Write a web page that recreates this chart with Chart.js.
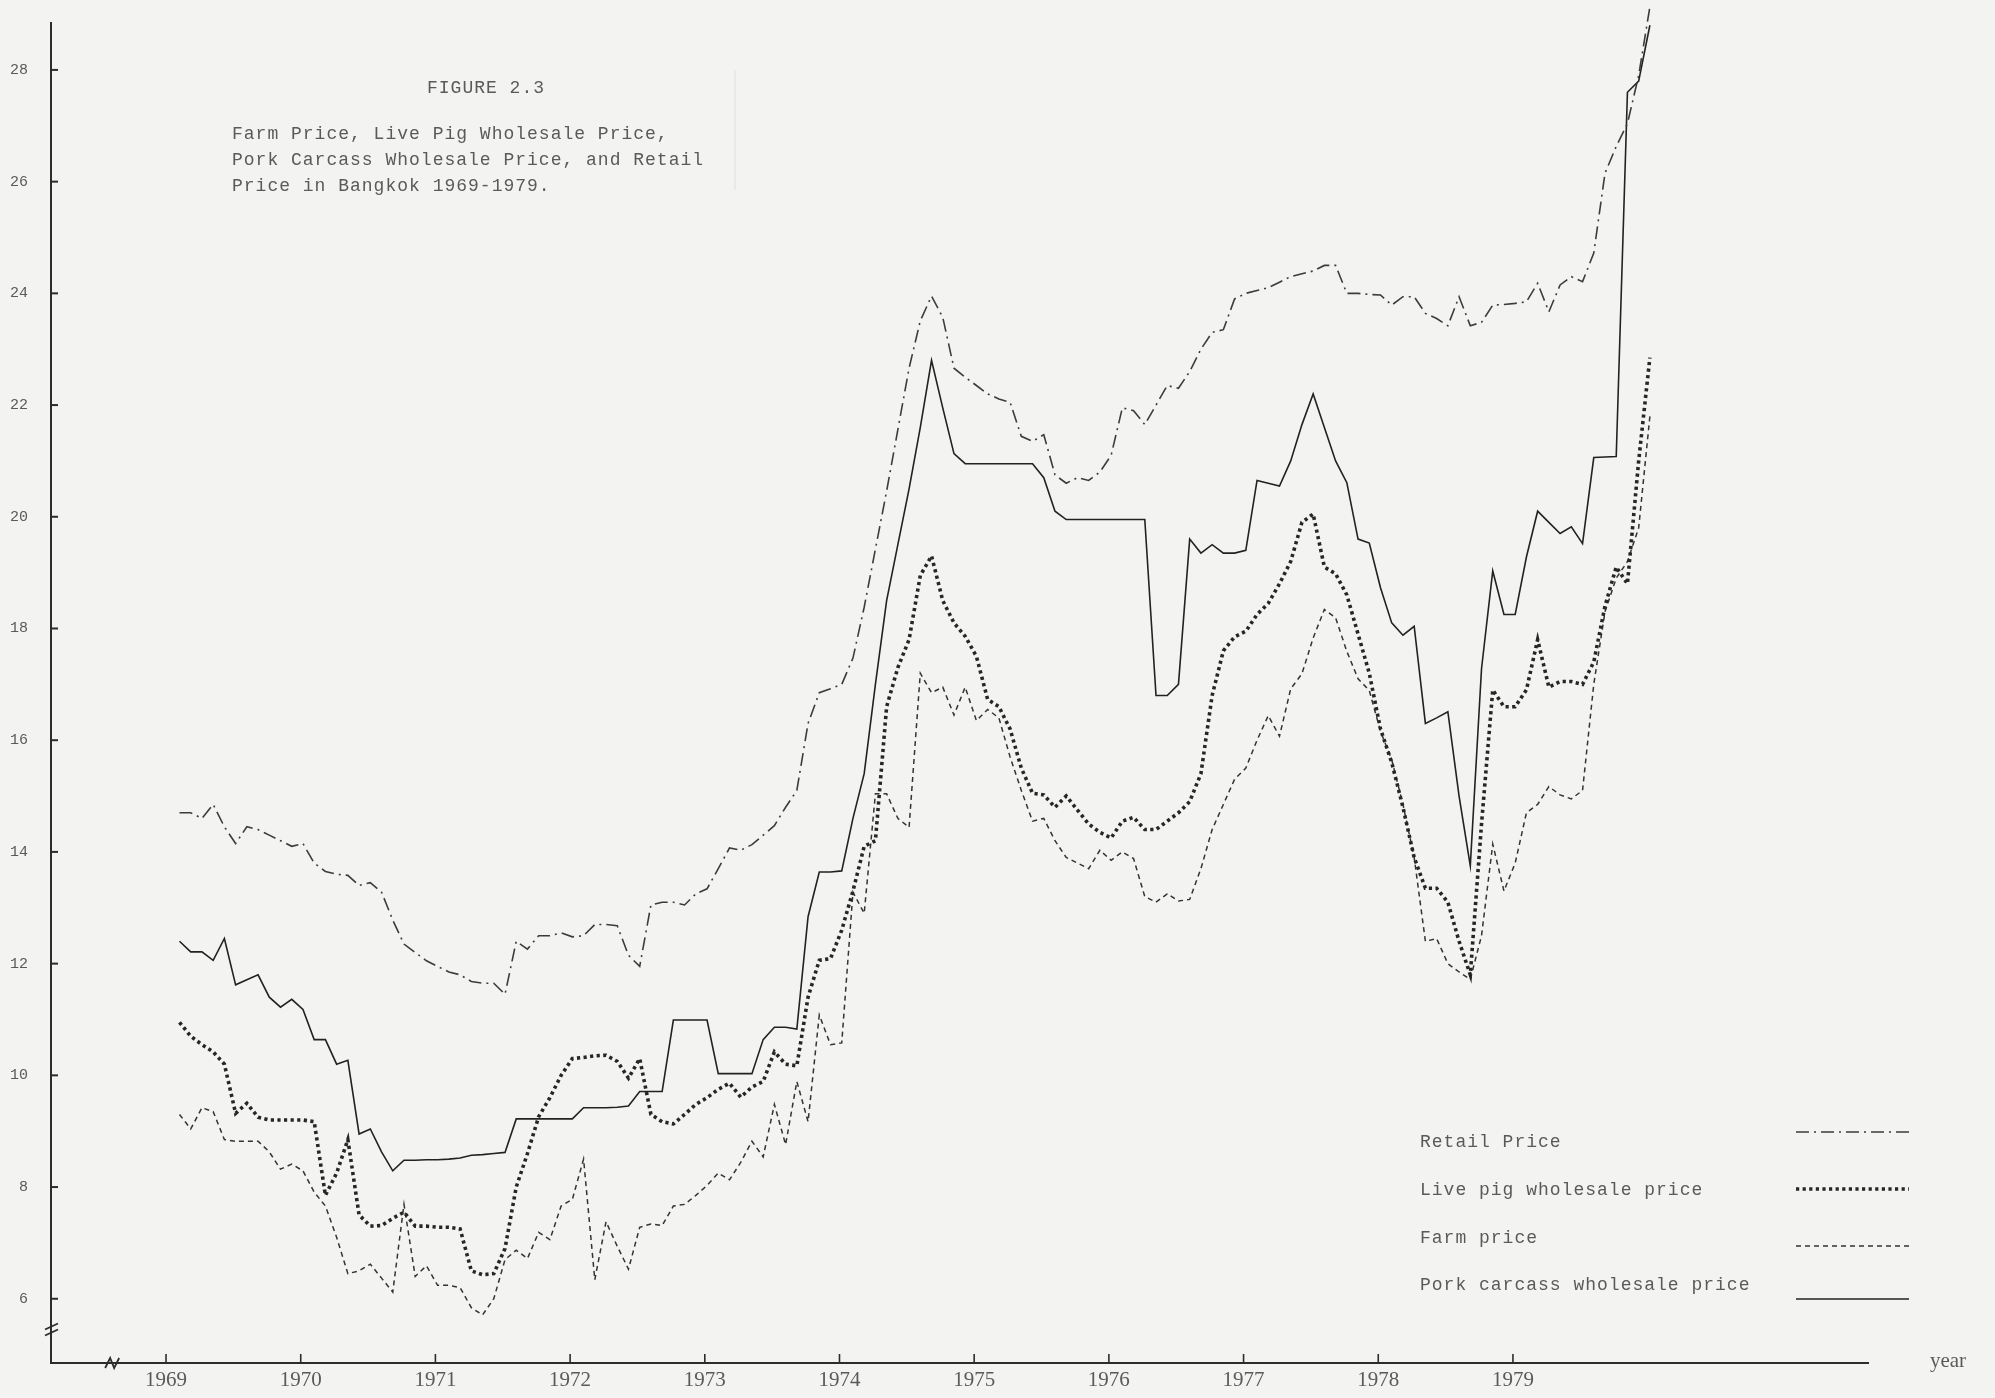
<!DOCTYPE html>
<html>
<head>
<meta charset="utf-8">
<script src="https://cdn.jsdelivr.net/npm/chart.js@4/dist/chart.umd.min.js"></script>
<style>
  html, body { margin: 0; padding: 0; background: #f3f3f2; }
  #wrap { width: 1995px; height: 1398px; position: relative; }
  canvas { display: block; }
</style>
</head>
<body>
<div id="wrap"><canvas id="chart" width="1995" height="1398"></canvas></div>
<script>
// Monthly prices, January 1969 to December 1979 (one row per year)
const years = [1969, 1970, 1971, 1972, 1973, 1974, 1975, 1976, 1977, 1978, 1979];
const yTicks = [6, 8, 10, 12, 14, 16, 18, 20, 22, 24, 26, 28];

const retailPrice = [
  14.7, 14.7, 14.6, 14.85, 14.45, 14.15, 14.45, 14.4, 14.3, 14.2, 14.1, 14.15,
  13.8, 13.65, 13.6, 13.58, 13.4, 13.45, 13.28, 12.78, 12.35, 12.2, 12.05, 11.95,
  11.85, 11.8, 11.68, 11.65, 11.65, 11.45, 12.4, 12.26, 12.5, 12.5, 12.55, 12.48,
  12.5, 12.7, 12.7, 12.68, 12.15, 11.95, 13.05, 13.1, 13.1, 13.05, 13.25, 13.34,
  13.7, 14.07, 14.03, 14.13, 14.3, 14.47, 14.8, 15.1, 16.3, 16.85, 16.92, 17.0,
  17.47, 18.38, 19.42, 20.46, 21.56, 22.66, 23.51, 23.95, 23.57, 22.66, 22.5, 22.35,
  22.2, 22.11, 22.05, 21.44, 21.35, 21.47, 20.75, 20.6, 20.7, 20.65, 20.8, 21.1,
  21.95, 21.9, 21.65, 22.0, 22.35, 22.3, 22.6, 23.0, 23.3, 23.35, 23.9, 24.0,
  24.05, 24.1, 24.2, 24.3, 24.35, 24.4, 24.5, 24.5, 24.0, 24.0, 23.98, 23.97,
  23.79, 23.94, 23.94, 23.64, 23.55, 23.42, 23.94, 23.42, 23.48, 23.79, 23.8, 23.82,
  23.85, 24.18, 23.67, 24.15, 24.3, 24.21, 24.72, 26.15, 26.63, 27.04, 27.9, 29.13
];

const livePigPrice = [
  10.95, 10.7, 10.55, 10.42, 10.2, 9.32, 9.5, 9.25, 9.2, 9.2, 9.2, 9.2,
  9.17, 7.85, 8.25, 8.85, 7.5, 7.3, 7.31, 7.44, 7.55, 7.3, 7.3, 7.28,
  7.28, 7.25, 6.5, 6.43, 6.45, 6.9, 8.0, 8.6, 9.26, 9.6, 10.0, 10.3,
  10.32, 10.35, 10.36, 10.25, 9.95, 10.3, 9.3, 9.17, 9.13, 9.3, 9.48, 9.6,
  9.75, 9.86, 9.61, 9.79, 9.89, 10.42, 10.2, 10.17, 11.4, 12.06, 12.09, 12.6,
  13.3, 14.1, 14.2, 16.6, 17.3, 17.8, 18.95, 19.3, 18.5, 18.1, 17.86, 17.5,
  16.73, 16.6, 16.2, 15.5, 15.05, 15.02, 14.8, 15.0, 14.75, 14.5, 14.35, 14.25,
  14.55, 14.62, 14.4, 14.4, 14.55, 14.7, 14.9, 15.4, 16.8, 17.6, 17.85, 17.95,
  18.25, 18.45, 18.8, 19.2, 19.9, 20.05, 19.1, 18.98, 18.6, 17.9, 17.2, 16.2,
  15.6, 14.8, 13.9, 13.35, 13.35, 13.1, 12.4, 11.8, 14.5, 16.9, 16.6, 16.6,
  16.9, 17.8, 16.95, 17.05, 17.05, 17.0, 17.4, 18.4, 19.1, 18.8, 21.0, 22.85
];

const farmPrice = [
  9.3, 9.04, 9.42, 9.35, 8.85, 8.82, 8.82, 8.82, 8.63, 8.32, 8.41, 8.29,
  7.91, 7.66, 7.1, 6.45, 6.5, 6.62, 6.37, 6.12, 7.69, 6.4, 6.59, 6.24,
  6.24, 6.2, 5.84, 5.71, 6.0, 6.7, 6.87, 6.72, 7.19, 7.06, 7.66, 7.78,
  8.5, 6.34, 7.38, 6.94, 6.53, 7.28, 7.34, 7.31, 7.66, 7.69, 7.85, 8.03,
  8.25, 8.13, 8.44, 8.82, 8.54, 9.48, 8.76, 9.89, 9.17, 11.08, 10.55, 10.58,
  13.28, 12.9, 15.04, 15.04, 14.6, 14.44, 17.2, 16.85, 16.95, 16.45, 16.95, 16.35,
  16.55, 16.4, 15.7, 15.1, 14.55, 14.6, 14.2, 13.9, 13.8, 13.7, 14.03, 13.85,
  14.0, 13.88, 13.2, 13.1, 13.25, 13.12, 13.15, 13.7, 14.4, 14.85, 15.3, 15.5,
  16.0, 16.44, 16.07, 16.92, 17.19, 17.83, 18.34, 18.19, 17.59, 17.1, 16.89, 16.16,
  15.65, 14.85, 13.9, 12.4, 12.45, 12.0, 11.85, 11.72, 12.5, 14.14, 13.3, 13.8,
  14.7, 14.85, 15.17, 15.02, 14.95, 15.1, 17.0, 18.3, 18.9, 19.2, 19.8, 21.8
];

const porkCarcassPrice = [
  12.4, 12.21, 12.21, 12.06, 12.45, 11.62, 11.71, 11.8, 11.4, 11.22, 11.36, 11.18,
  10.64, 10.64, 10.2, 10.27, 8.95, 9.04, 8.63, 8.29, 8.48, 8.48, 8.49, 8.49,
  8.5, 8.52, 8.57, 8.58, 8.6, 8.62, 9.22, 9.22, 9.22, 9.22, 9.22, 9.22,
  9.42, 9.42, 9.42, 9.43, 9.45, 9.71, 9.71, 9.71, 10.99, 10.99, 10.99, 10.99,
  10.03, 10.03, 10.03, 10.03, 10.64, 10.86, 10.86, 10.83, 12.84, 13.64, 13.64, 13.66,
  14.6, 15.4, 17.0, 18.5, 19.5, 20.5, 21.6, 22.8, 21.95, 21.13, 20.95, 20.95,
  20.95, 20.95, 20.95, 20.95, 20.95, 20.7, 20.1, 19.95, 19.95, 19.95, 19.95, 19.95,
  19.95, 19.95, 19.95, 16.8, 16.8, 17.0, 19.6, 19.35, 19.5, 19.35, 19.35, 19.4,
  20.65, 20.6, 20.55, 21.0, 21.65, 22.2, 21.6, 21.0, 20.61, 19.6, 19.53, 18.73,
  18.1, 17.88, 18.04, 16.3, 16.4, 16.51, 15.0, 13.75, 17.28, 19.03, 18.25, 18.25,
  19.28, 20.1, 19.9, 19.7, 19.82, 19.52, 21.06, 21.07, 21.08, 27.6, 27.8, 28.8
];

const seriesNames = ['Retail Price', 'Live pig wholesale price', 'Farm price', 'Pork carcass wholesale price'];
const figureLabel = 'FIGURE 2.3';
const titleLines = [
  'Farm Price, Live Pig Wholesale Price,',
  'Pork Carcass Wholesale Price, and Retail',
  'Price in Bangkok 1969-1979.'
];
const xAxisName = 'year';

// month index -> position on the year axis
const monthPos = i => years[0] + (i + 1.2) / 12;
const toPoints = arr => arr.map((v, i) => ({ x: monthPos(i), y: v }));

const INK = '#2c2c2c';
const TEXT = '#5a5a5a';
const MONO = '"Liberation Mono", "DejaVu Sans Mono", monospace';
const SERIF = '"Liberation Serif", "DejaVu Serif", serif';

const datasets = [
  { label: seriesNames[0], data: toPoints(retailPrice), borderColor: '#3c3c3c', borderWidth: 1.6,
    borderDash: [13, 5, 2, 5] },
  { label: seriesNames[1], data: toPoints(livePigPrice), borderColor: '#262626', borderWidth: 3.6,
    borderDash: [3.2, 3.4] },
  { label: seriesNames[2], data: toPoints(farmPrice), borderColor: '#333333', borderWidth: 1.5,
    borderDash: [5, 4] },
  { label: seriesNames[3], data: toPoints(porkCarcassPrice), borderColor: '#222222', borderWidth: 1.6,
    borderDash: [] }
].map(d => Object.assign(d, { pointRadius: 0, tension: 0, fill: false, clip: false,
                              borderCapStyle: 'butt', borderJoinStyle: 'miter' }));

// paper background
const paper = {
  id: 'paper',
  beforeDraw(chart) {
    const ctx = chart.ctx;
    ctx.save();
    ctx.fillStyle = '#f3f3f2';
    ctx.fillRect(0, 0, chart.width, chart.height);
    ctx.restore();
  }
};

// tick marks, axis breaks, title block, legend
const annotations = {
  id: 'annotations',
  afterDraw(chart) {
    const ctx = chart.ctx;
    const xs = chart.scales.x, ys = chart.scales.y;
    const area = chart.chartArea;
    ctx.save();
    ctx.strokeStyle = INK;
    ctx.lineWidth = 2;

    // inward tick marks on y
    yTicks.forEach(v => {
      const py = ys.getPixelForValue(v);
      ctx.beginPath(); ctx.moveTo(area.left, py); ctx.lineTo(area.left + 7, py); ctx.stroke();
    });
    // inward tick marks on x
    ctx.lineWidth = 1.6;
    years.forEach(yr => {
      const px = xs.getPixelForValue(yr);
      ctx.beginPath(); ctx.moveTo(px, area.bottom); ctx.lineTo(px, area.bottom - 9); ctx.stroke();
    });

    // axis break marks
    ctx.lineWidth = 1.8;
    const by = ys.getPixelForValue(5.45);
    [-3, 3].forEach(o => {
      ctx.beginPath(); ctx.moveTo(area.left - 6, by + o + 3); ctx.lineTo(area.left + 7, by + o - 3); ctx.stroke();
    });
    const bx = xs.getPixelForValue(1968.6);
    ctx.beginPath();
    ctx.moveTo(bx - 7, area.bottom + 5); ctx.lineTo(bx - 2, area.bottom - 5);
    ctx.lineTo(bx + 2, area.bottom + 5); ctx.lineTo(bx + 7, area.bottom - 5);
    ctx.stroke();

    // axis name
    ctx.fillStyle = TEXT;
    ctx.font = '21px ' + SERIF;
    ctx.textAlign = 'center';
    ctx.textBaseline = 'middle';
    ctx.fillText(xAxisName, 1948, area.bottom - 2);

    // title block
    ctx.font = '18px ' + MONO;
    if ('letterSpacing' in ctx) ctx.letterSpacing = '1px';
    ctx.fillText(figureLabel, 486, 88);
    ctx.textAlign = 'left';
    titleLines.forEach((t, i) => ctx.fillText(t, 232, 134 + i * 26));

    // faint edge of the pasted title label
    ctx.strokeStyle = 'rgba(0,0,0,0.08)';
    ctx.lineWidth = 1;
    ctx.beginPath(); ctx.moveTo(735, 70); ctx.lineTo(735, 190); ctx.stroke();

    // legend: label on the left, line sample on the right
    const textY = [1142, 1190, 1238, 1285];
    const sampleY = [1132, 1189, 1246, 1299];
    chart.data.datasets.forEach((ds, i) => {
      ctx.fillStyle = TEXT;
      ctx.fillText(ds.label, 1420, textY[i]);
      ctx.save();
      ctx.strokeStyle = ds.borderColor;
      ctx.lineWidth = ds.borderWidth;
      ctx.setLineDash(ds.borderDash || []);
      ctx.beginPath(); ctx.moveTo(1796, sampleY[i]); ctx.lineTo(1909, sampleY[i]); ctx.stroke();
      ctx.restore();
    });
    ctx.restore();
  }
};

new Chart(document.getElementById('chart'), {
  type: 'line',
  data: { datasets },
  options: {
    responsive: false,
    animation: false,
    devicePixelRatio: 1,
    layout: { padding: { top: 23, right: 127, left: 0, bottom: 0 } },
    plugins: { legend: { display: false }, tooltip: { enabled: false }, title: { display: false } },
    scales: {
      x: {
        type: 'linear',
        min: 1968.146,
        max: 1981.636,
        afterFit: s => { s.height = 35; s.paddingLeft = 0; s.paddingRight = 0; },
        afterBuildTicks: s => { s.ticks = years.map(v => ({ value: v })); },
        grid: { display: false, drawTicks: false, drawOnChartArea: false },
        border: { display: true, color: INK, width: 2 },
        ticks: { autoSkip: false, maxRotation: 0, padding: 5, color: TEXT,
                 font: { family: SERIF, size: 21 }, callback: v => String(v) }
      },
      y: {
        type: 'linear',
        min: 4.85,
        max: 28.84,
        afterFit: s => { s.width = 51; s.paddingTop = 0; s.paddingBottom = 0; },
        afterBuildTicks: s => { s.ticks = yTicks.map(v => ({ value: v })); },
        grid: { display: false, drawTicks: false, drawOnChartArea: false },
        border: { display: true, color: INK, width: 2 },
        ticks: { padding: 23, color: TEXT, font: { family: MONO, size: 15 }, callback: v => String(v) }
      }
    }
  },
  plugins: [paper, annotations]
});
</script>
</body>
</html>
